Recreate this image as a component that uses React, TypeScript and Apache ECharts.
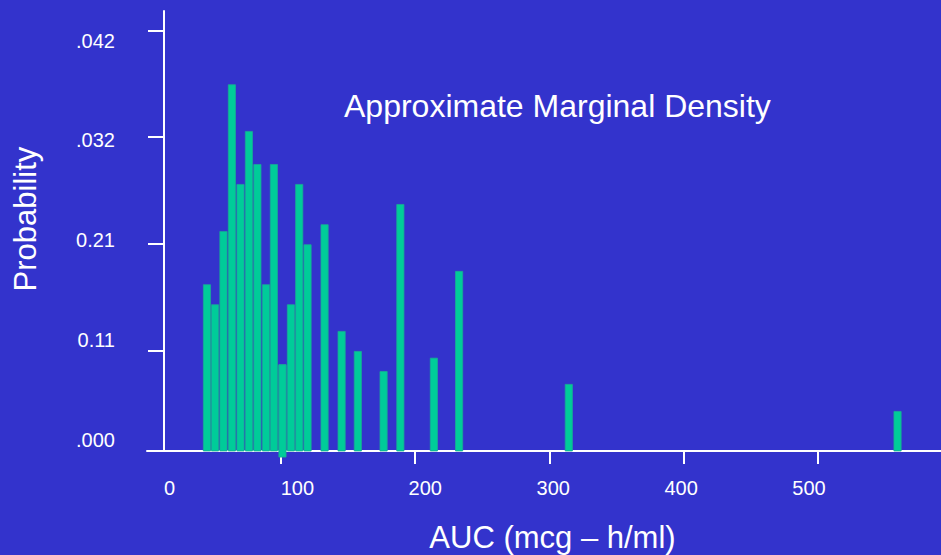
import React, { useEffect, useRef } from "react";
import * as echarts from "echarts";

// AUC bin centres (mcg·h/ml) and their approximate marginal probabilities
const aucValues = [44.7, 50.7, 57.0, 63.3, 69.7, 76.0, 82.3, 88.7, 94.6, 101.0, 107.3, 113.5, 119.7, 132.4, 145.1, 157.2, 176.4, 188.9, 213.9, 232.7, 314.5, 559.6];
const probabilities = [0.01703, 0.01506, 0.02227, 0.03669, 0.02689, 0.0321, 0.02885, 0.01703, 0.02885, 0.00916, 0.01506, 0.02689, 0.02096, 0.02293, 0.01244, 0.01047, 0.0085, 0.02492, 0.00981, 0.01834, 0.00723, 0.00457];
// the bar that is drawn through the axis line in the original
const overhangIndex = 9;

const xTickValues = [100, 200, 300, 400, 500];
const xLabelValues = [0, 100, 200, 300, 400, 500];
const xTickLabels = ["0", "100", "200", "300", "400", "500"];
const yTickValues = [0.0105, 0.021, 0.0315, 0.042];
const yLabelValues = [0, 1, 2, 3, 4];
const yTickLabels = [".000", "0.11", "0.21", ".032", ".042"];

const FONT = "'Liberation Sans', Arial, Helvetica, sans-serif";
const WHITE = "#ffffff";
const BAR = "#00cc99";

export default function App() {
  const ref = useRef<HTMLDivElement>(null);
  useEffect(() => {
    if (!ref.current) return;
    const chart = echarts.init(ref.current, null, { renderer: "svg" });
    const data = aucValues.map((x, i) => [x, probabilities[i]]);
    const option: any = {
      animation: false,
      backgroundColor: "#3333cc",
      textStyle: { fontFamily: FONT },
      title: {
        text: "Approximate Marginal Density",
        left: 344,
        top: 90,
        padding: 0,
        textStyle: { color: WHITE, fontSize: 32, fontWeight: "normal", fontFamily: FONT },
      },
      grid: { left: 147, right: 0, top: 11, bottom: 104, outerBoundsMode: "none", containLabel: false },
      xAxis: [
        {
          type: "value",
          position: "bottom",
          min: 0,
          max: 592,
          axisLine: { show: true, onZero: false, lineStyle: { color: WHITE, width: 2 } },
          axisTick: { show: true, customValues: xTickValues, length: 13, lineStyle: { color: WHITE, width: 2 } },
          axisLabel: { show: false },
          splitLine: { show: false },
        },
        {
          type: "value",
          position: "bottom",
          min: -17.6,
          max: 603.2,
          axisLine: { show: false, onZero: false },
          axisTick: { show: false },
          splitLine: { show: false },
          axisLabel: {
            customValues: xLabelValues,
            formatter: (v: number) => xTickLabels[xLabelValues.indexOf(Math.round(v))] ?? "",
            color: WHITE,
            fontSize: 20,
            margin: 27,
            fontFamily: FONT,
          },
          name: "AUC (mcg – h/ml)",
          nameLocation: "middle",
          nameGap: 71,
          nameTextStyle: { color: WHITE, fontSize: 31, fontFamily: FONT, padding: [0, 0, 0, 17] },
        },
      ],
      yAxis: [
        {
          type: "value",
          position: "left",
          offset: -17,
          min: 0.00064,
          max: 0.0439,
          axisLine: { show: true, onZero: false, lineStyle: { color: WHITE, width: 2 } },
          axisTick: { show: true, customValues: yTickValues, length: 16, lineStyle: { color: WHITE, width: 2 } },
          axisLabel: { show: false },
          splitLine: { show: false },
        },
        {
          type: "value",
          position: "left",
          min: -0.1132,
          max: 4.2956,
          axisLine: { show: false, onZero: false },
          axisTick: { show: false },
          splitLine: { show: false },
          axisLabel: {
            customValues: yLabelValues,
            formatter: (v: number) => yTickLabels[Math.round(v)] ?? "",
            color: WHITE,
            fontSize: 20,
            margin: 32,
            fontFamily: FONT,
          },
        },
      ],
      graphic: [
        {
          type: "text",
          x: 25,
          y: 219,
          rotation: Math.PI / 2,
          style: {
            text: "Probability",
            fill: WHITE,
            fontSize: 31,
            fontFamily: FONT,
            textAlign: "center",
            textVerticalAlign: "middle",
            align: "center",
            verticalAlign: "middle",
          },
        },
      ],
      series: [
        {
          type: "bar",
          xAxisIndex: 0,
          yAxisIndex: 0,
          data,
          barWidth: 8,
          barGap: "-100%",
          clip: true,
          itemStyle: { color: BAR, borderColor: "#1aa896", borderWidth: 0.8 },
        },
        {
          type: "bar",
          xAxisIndex: 0,
          yAxisIndex: 0,
          data: [data[overhangIndex]],
          barWidth: 8,
          barGap: "-100%",
          clip: false,
          itemStyle: { color: BAR, borderColor: "#1aa896", borderWidth: 0.8 },
        },
      ],
    };
    chart.setOption(option);
    return () => chart.dispose();
  }, []);
  return (
    <div
      ref={ref}
      style={{ position: "absolute", left: 0, top: 0, width: 941, height: 555 }}
    />
  );
}
